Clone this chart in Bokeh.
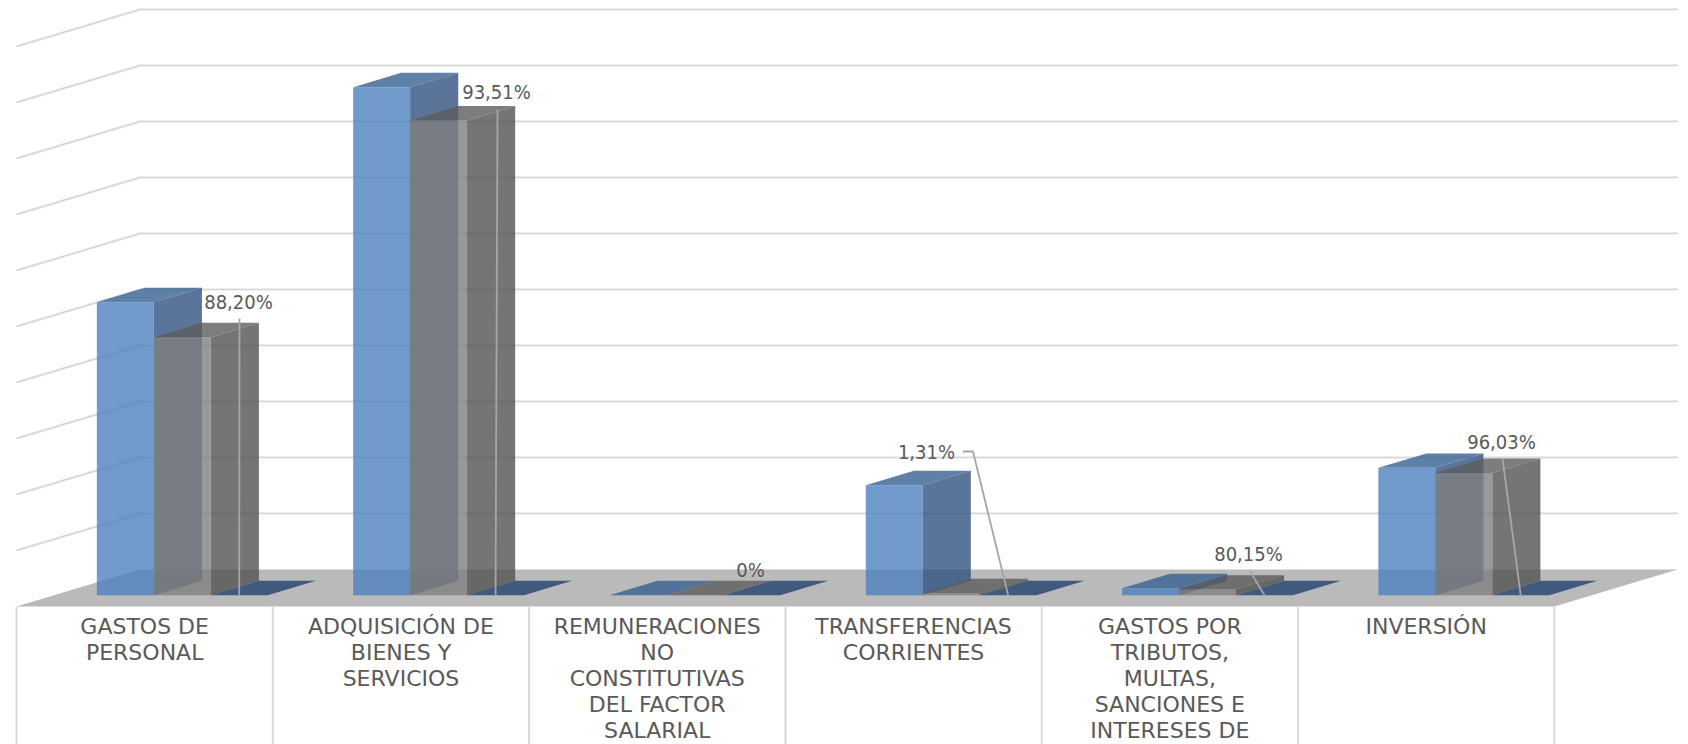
from bokeh.plotting import figure
from bokeh.models import Range1d, ColumnDataSource
from bokeh.core.properties import value
from bokeh.embed import file_html
from bokeh.resources import INLINE

# ---- data ----
categories = [
    ["GASTOS DE", "PERSONAL"],
    ["ADQUISICIÓN DE", "BIENES Y", "SERVICIOS"],
    ["REMUNERACIONES", "NO", "CONSTITUTIVAS", "DEL FACTOR", "SALARIAL"],
    ["TRANSFERENCIAS", "CORRIENTES"],
    ["GASTOS POR", "TRIBUTOS,", "MULTAS,", "SANCIONES E", "INTERESES DE"],
    ["INVERSIÓN"],
]
series_a = [5.232, 9.071, 0.0, 1.964, 0.125, 2.275]
series_b = [4.607, 8.477, 0.0, 0.036, 0.100, 2.184]
series_c = [0.0, 0.0, 0.0, 0.0, 0.0, 0.0]
pct_labels = ["88,20%", "93,51%", "0%", "1,31%", "80,15%", "96,03%"]
grid_levels = [1, 2, 3, 4, 5, 6, 7, 8, 9, 10]

# ---- layout (page pixels) ----
W, H = 1688, 744
PX_CAT, PX_UNIT = 256.3, 56.0
ORIGIN_X, ORIGIN_Y = 16.0, 606.0
DX, DY = 123.4 / PX_CAT, 37.0 / PX_UNIT
Z0, Z1 = 0.305, 0.695
BAR_W, BAR_OFF = 2 / 9, 1 / 6
N = len(categories)

VAL_FONT, VAL_PX = "DejaVu Sans Condensed", "20px"
CAT_FONT, CAT_PX = "DejaVu Sans", "22px"
INK = "#595959"
GRID = "#D9D9D9"
LEADER = "#A6A6A6"
FLOOR = "#BABABA"
ALPHA = 0.8
# (front, side, top)
COL_A = ("#4C81BE", "#31527F", "#376192")
COL_B = ("#7F7F7F", "#535353", "#5C5C5C")
COL_C = ("#20426D", "#20426D", "#20426D")

# label centres (page px) and leader starts (page px)
label_xy = [(238, 301), (496, 91), (750, 569), (926, 451), (1248, 553), (1501, 441)]
leader_start = [[(239, 318)], [(497, 109)], [], [(962.5, 451), (972.5, 451)], [(1249.3, 570)], [(1502, 458)]]


def dx(px):
    return (px - ORIGIN_X) / PX_CAT


def dy(py):
    return (ORIGIN_Y - py) / PX_UNIT


def proj(x, v, z):
    return x + z * DX, v + z * DY


p = figure(width=W, height=H, output_backend="svg", toolbar_location=None,
           x_range=Range1d(dx(0), dx(W)), y_range=Range1d(dy(H), dy(0)),
           x_axis_type=None, y_axis_type=None, min_border=0, outline_line_color=None,
           background_fill_color="white", border_fill_color="white")
p.grid.visible = False

# walls' gridlines
gx, gy = [], []
for g in grid_levels:
    pts = [proj(0, g, 0), proj(0, g, 1), proj(N, g, 1)]
    gx.append([a for a, _ in pts])
    gy.append([b for _, b in pts])
p.multi_line(gx, gy, line_color=GRID, line_width=2)

# floor
floor = [proj(0, 0, 0), proj(N, 0, 0), proj(N, 0, 1), proj(0, 0, 1)]
p.patch([a for a, _ in floor], [b for _, b in floor], fill_color=FLOOR, line_color=None)


def bar_faces(x0, h):
    x1 = x0 + BAR_W
    front = [proj(x0, 0, Z0), proj(x1, 0, Z0), proj(x1, h, Z0), proj(x0, h, Z0)]
    side = [proj(x1, 0, Z0), proj(x1, 0, Z1), proj(x1, h, Z1), proj(x1, h, Z0)]
    top = [proj(x0, h, Z0), proj(x1, h, Z0), proj(x1, h, Z1), proj(x0, h, Z1)]
    return front, side, top


for k, (vals, cols) in enumerate([(series_a, COL_A), (series_b, COL_B), (series_c, COL_C)]):
    for i, h in enumerate(vals):
        front, side, top = bar_faces(i + BAR_OFF + k * BAR_W, h)
        for face, col in ((side, cols[1]), (top, cols[2]), (front, cols[0])):
            p.patch([a for a, _ in face], [b for _, b in face],
                    fill_color=col, fill_alpha=ALPHA, line_color=None)

# category dividers
bottom = dy(H)
dvx = [[i, i] for i in range(N + 1)]
dvy = [[0, bottom] for _ in range(N + 1)]
p.multi_line(dvx, dvy, line_color=GRID, line_width=2)

# leaders
lx, ly = [], []
for i, start in enumerate(leader_start):
    if not start:
        continue
    ex, ey = proj(i + BAR_OFF + 2.5 * BAR_W, series_c[i], Z0)
    lx.append([dx(a) for a, _ in start] + [ex])
    ly.append([dy(b) for _, b in start] + [ey])
p.multi_line(lx, ly, line_color=LEADER, line_width=1.8)

# data labels
src = ColumnDataSource(dict(x=[dx(a) for a, _ in label_xy], y=[dy(b) for _, b in label_xy], t=pct_labels))
p.text("x", "y", text="t", source=src, text_font=value(VAL_FONT), text_font_size=value(VAL_PX),
       text_color=INK, text_align="center", text_baseline="middle")

# category labels
cx, cy, ct = [], [], []
for i, lines in enumerate(categories):
    for j, line in enumerate(lines):
        cx.append(i + 0.5)
        cy.append(dy(626 + 26 * j))
        ct.append(line)
p.text(cx, cy, text=ct, text_font=value(CAT_FONT), text_font_size=value(CAT_PX),
       text_color=INK, text_align="center", text_baseline="alphabetic")

open("out.html", "w").write(file_html(p, INLINE))
